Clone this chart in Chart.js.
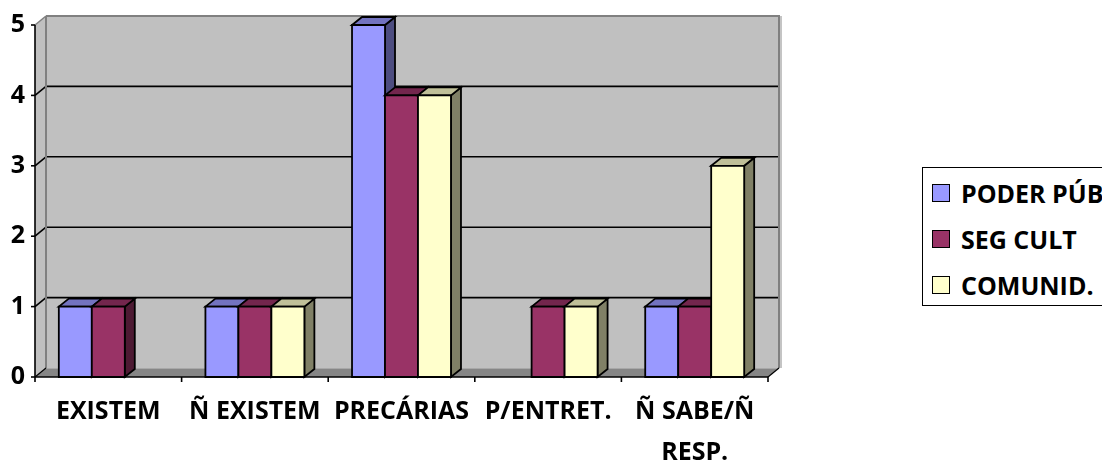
<!DOCTYPE html>
<html>
<head>
<meta charset="utf-8">
<script src="https://cdn.jsdelivr.net/npm/chart.js@4.4.0/dist/chart.umd.min.js"></script>
<style>
  html, body { margin: 0; padding: 0; background: #ffffff; overflow: hidden; }
  #wrap { position: relative; width: 1102px; height: 462px; overflow: hidden; }
  #chart { position: absolute; left: 0; top: 0; }
  #legend {
    position: absolute; left: 922px; top: 167px; width: 220px; height: 139px;
    border: 1.5px solid #000; background: #fff; box-sizing: border-box;
    font-family: "Open Sans", Lato, sans-serif; font-weight: 700; font-size: 25px; color: #000;
    padding-top: 2px;
  }
  #legend .row { height: 46px; display: flex; align-items: center; white-space: nowrap; }
  #legend .sw { width: 18px; height: 18px; box-sizing: border-box; border: 1.5px solid #000; margin-left: 9px; margin-right: 11px; flex: none; }
</style>
</head>
<body>
<div id="wrap">
  <canvas id="chart" width="1102" height="462"></canvas>
  <div id="legend"></div>
</div>
<script>
// Categories and values
const categories = ['EXISTEM', 'Ñ EXISTEM', 'PRECÁRIAS', 'P/ENTRET.', ['Ñ SABE/Ñ', 'RESP.']];
const seriesNames = ['PODER PÚB', 'SEG CULT', 'COMUNID.'];
const poderPublico = [1, 1, 5, 0, 1];
const segCult = [1, 1, 4, 1, 1];
const comunid = [0, 1, 4, 1, 3];
const yTicks = [0, 1, 2, 3, 4, 5];

// Face colours per series: front, top, side
const faceColors = [
  { front: '#9999FF', top: '#7373C0', side: '#4D4D80' },
  { front: '#993366', top: '#73264D', side: '#4D1A33' },
  { front: '#FFFFCC', top: '#C0C099', side: '#808066' }
];

const FONT = '"Open Sans", Lato, sans-serif';
const WALL_DX = 11, WALL_DY = -9;   // depth of the back wall
const BAR_DX = 10, BAR_DY = -8;     // depth of each bar

function poly(ctx, pts, fill, stroke, lw) {
  ctx.beginPath();
  ctx.moveTo(pts[0][0], pts[0][1]);
  for (let i = 1; i < pts.length; i++) ctx.lineTo(pts[i][0], pts[i][1]);
  ctx.closePath();
  if (fill) { ctx.fillStyle = fill; ctx.fill(); }
  if (stroke) { ctx.strokeStyle = stroke; ctx.lineWidth = lw || 1; ctx.stroke(); }
}
function line(ctx, x0, y0, x1, y1, color, lw) {
  ctx.beginPath();
  ctx.moveTo(x0, y0); ctx.lineTo(x1, y1);
  ctx.strokeStyle = color; ctx.lineWidth = lw; ctx.stroke();
}

// Draws the walls, floor, grid and the 3D bars
const box3d = {
  id: 'box3d',
  beforeDatasetsDraw(chart) {
    const ctx = chart.ctx;
    const { left: L, right: R, top: T, bottom: B } = chart.chartArea;
    const ys = chart.scales.y;
    const dx = WALL_DX, dy = WALL_DY;
    ctx.save();
    ctx.lineJoin = 'miter';

    // back wall, side wall, floor
    poly(ctx, [[L + dx, T + dy], [R + dx, T + dy], [R + dx, B + dy], [L + dx, B + dy]], '#C0C0C0');
    poly(ctx, [[L, B], [L, T], [L + dx, T + dy], [L + dx, B + dy]], '#C0C0C0');
    poly(ctx, [[L, B], [R, B], [R + dx, B + dy], [L + dx, B + dy]], '#868686');
    line(ctx, L + dx, B + dy + 0.5, R + dx, B + dy + 0.5, '#A8A8A8', 1);

    // horizontal grid lines on both walls
    yTicks.forEach(v => {
      if (v === 0 || v === ys.max) return;
      const y = ys.getPixelForValue(v);
      line(ctx, L + dx, y + dy, R + dx, y + dy, '#000', 1.6);
      line(ctx, L, y, L + dx, y + dy, '#000', 1.6);
    });

    // wall borders
    line(ctx, L + dx, T + dy, R + dx + 1, T + dy, '#808080', 2);
    line(ctx, R + dx, T + dy, R + dx, B + dy, '#808080', 2);
    line(ctx, R + dx + 2, T + dy, R + dx + 2, B + dy, '#B0B0B0', 1.5);
    line(ctx, L + dx, T + dy, L + dx, B + dy, '#808080', 2);
    line(ctx, L, T, L + dx, T + dy, '#808080', 1.5);

    // axes and tick marks
    line(ctx, L, T, L, B, '#000', 1.6);
    yTicks.forEach(v => {
      const y = ys.getPixelForValue(v);
      line(ctx, L - 4, y, L, y, '#000', 1.6);
    });
    line(ctx, L, B, R, B, '#000', 1.6);
    line(ctx, L, B, L + dx, B + dy, '#000', 1.2);
    line(ctx, R, B, R + dx, B + dy, '#000', 1.2);
    const n = categories.length;
    for (let i = 0; i <= n; i++) {
      const x = L + (R - L) * i / n;
      line(ctx, x, B, x, B + 5, '#000', 1.6);
    }

    // bars: per category, left to right, so each front face hides the previous side face
    const metas = chart.data.datasets.map((d, i) => chart.getDatasetMeta(i));
    for (let c = 0; c < n; c++) {
      metas.forEach((meta, d) => {
        const v = chart.data.datasets[d].data[c];
        if (!v) return;
        const el = meta.data[c];
        const x0 = el.x - el.width / 2, x1 = el.x + el.width / 2;
        const yt = el.y, yb = el.base;
        const col = faceColors[d];
        poly(ctx, [[x1, yt], [x1 + BAR_DX, yt + BAR_DY], [x1 + BAR_DX, yb + BAR_DY], [x1, yb]], col.side, '#000', 1.8);
        poly(ctx, [[x0, yt], [x0 + BAR_DX, yt + BAR_DY], [x1 + BAR_DX, yt + BAR_DY], [x1, yt]], col.top, '#000', 1.8);
        poly(ctx, [[x0, yt], [x1, yt], [x1, yb], [x0, yb]], col.front, '#000', 1.8);
      });
    }
    ctx.restore();
    return false;
  }
};

const chart = new Chart(document.getElementById('chart'), {
  type: 'bar',
  data: {
    labels: categories,
    datasets: [
      { label: seriesNames[0], data: poderPublico, backgroundColor: faceColors[0].front },
      { label: seriesNames[1], data: segCult, backgroundColor: faceColors[1].front },
      { label: seriesNames[2], data: comunid, backgroundColor: faceColors[2].front }
    ]
  },
  options: {
    responsive: false,
    animation: false,
    layout: { padding: { top: 24, right: 334, left: 0, bottom: 0 } },
    datasets: { bar: { categoryPercentage: 0.675, barPercentage: 1.0 } },
    plugins: { legend: { display: false }, tooltip: { enabled: false } },
    scales: {
      x: {
        grid: { display: false, drawTicks: false },
        border: { display: false },
        ticks: {
          color: '#000', maxRotation: 0, autoSkip: false, padding: 14,
          font: { family: FONT, weight: 'bold', size: 25, lineHeight: '41px' }
        },
        afterFit(s) { s.height = 85; }
      },
      y: {
        min: 0, max: 5,
        grid: { display: false, drawTicks: false },
        border: { display: false },
        ticks: {
          stepSize: 1, color: '#000', padding: 10,
          font: { family: FONT, weight: 'bold', size: 25 }
        },
        afterFit(s) { s.width = 35; }
      }
    }
  },
  plugins: [box3d]
});

// Legend built from the series names and colours
const legend = document.getElementById('legend');
seriesNames.forEach((name, i) => {
  const row = document.createElement('div');
  row.className = 'row';
  const sw = document.createElement('span');
  sw.className = 'sw';
  sw.style.background = faceColors[i].front;
  const tx = document.createElement('span');
  tx.textContent = name;
  row.appendChild(sw); row.appendChild(tx);
  legend.appendChild(row);
});
</script>
</body>
</html>
